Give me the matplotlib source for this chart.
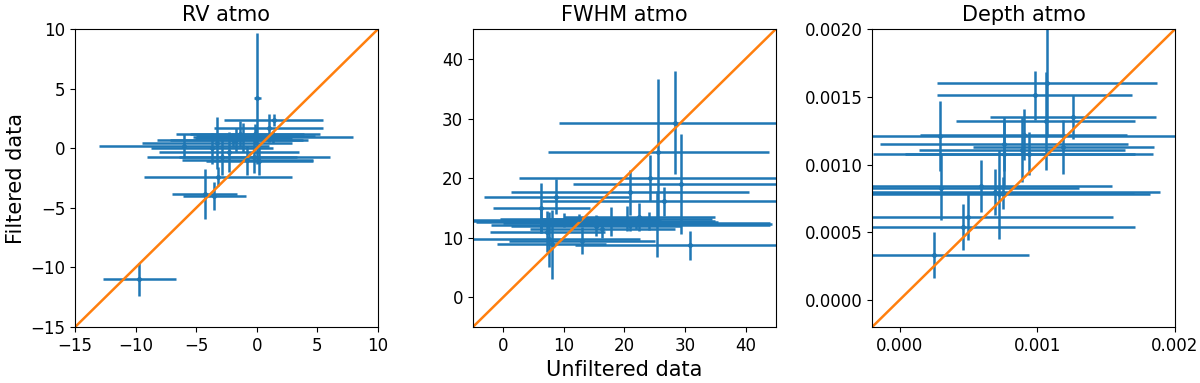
import matplotlib
matplotlib.use("Agg")
import matplotlib.pyplot as plt
from matplotlib.ticker import MultipleLocator
import numpy as np

# RV atmo: unfiltered (x) vs filtered (y), with errors
rv_x = [-9.7, -4.3, -3.5, -3.2, -6.0, -3.3, -2.3, -1.7, -1.4, -1.1, -0.8, -0.2,
        0.05, 1.0, 1.4, 1.3, -2.0, -0.15, -0.1, -2.9, 0.2, -3.7]
rv_y = [-11.0, -3.85, -4.0, -2.4, 0.2, 0.45, -0.3, 0.7, 1.2, 0.9, -1.0, -0.7,
        4.2, 1.7, 2.4, 0.95, 0.7, 1.2, 1.0, -0.7, -1.05, 0.0]
rv_xerr = [3.0, 2.7, 2.6, 6.1, 7.0, 6.2, 5.8, 5.5, 5.3, 4.0, 5.4, 6.2,
           0.3, 4.5, 4.1, 6.6, 6.2, 5.4, 4.9, 6.2, 4.4, 5.0]
rv_yerr = [1.4, 2.1, 1.2, 0.8, 1.0, 2.2, 1.7, 1.0, 1.1, 1.2, 1.2, 1.4,
           5.5, 1.2, 0.5, 0.5, 0.6, 0.8, 0.6, 1.5, 1.2, 1.3]

# FWHM atmo
fw_x = [28.3, 25.6, 24.2, 29.4, 20.9, 8.8, 6.3, 26.5, 30.8, 13.0, 7.6, 8.0, 7.3,
        15.3, 16.4, 17.8, 20.5, 22.5, 25.4, 15.5, 10.0, 6.2, 21.0, 12.5, 24.0, 22.0]
fw_y = [29.3, 24.4, 20.0, 19.0, 17.6, 16.9, 15.0, 16.1, 8.7, 9.5, 9.7, 8.9, 11.0,
        12.0, 11.5, 12.7, 13.2, 13.5, 12.3, 12.6, 13.0, 12.8, 12.2, 13.1, 12.8, 12.5]
fw_xerr = [19.0, 18.2, 21.6, 17.8, 19.6, 12.0, 8.0, 20.0, 19.0, 12.0, 15.0, 9.0, 9.5,
           14.0, 12.0, 12.0, 14.0, 12.5, 19.0, 20.0, 16.0, 12.0, 23.0, 13.0, 11.0, 22.0]
fw_yerr = [8.6, 12.3, 3.8, 8.4, 3.8, 2.9, 4.2, 2.4, 2.5, 2.3, 4.6, 5.8, 3.4,
           1.8, 1.5, 2.5, 2.1, 2.4, 5.6, 1.0, 1.2, 2.0, 1.0, 0.8, 1.5, 1.0]

# Depth atmo
dp_x = [2.5e-4, 4.6e-4, 5.0e-4, 5.9e-4, 2.9e-4, 3.0e-4, 6.9e-4, 7.2e-4, 7.6e-4, 7.6e-4,
        8.9e-4, 9.0e-4, 9.4e-4, 9.8e-4, 10.7e-4, 10.6e-4, 12.6e-4, 11.9e-4, 7.5e-4]
dp_y = [3.3e-4, 5.4e-4, 6.1e-4, 8.4e-4, 12.1e-4, 8.3e-4, 8.0e-4, 7.8e-4, 10.8e-4, 11.5e-4,
        11.1e-4, 12.2e-4, 10.8e-4, 15.1e-4, 16.0e-4, 13.2e-4, 13.5e-4, 11.3e-4, 7.9e-4]
dp_xerr = [6.9e-4, 12.5e-4, 10.5e-4, 9.5e-4, 18.0e-4, 10.0e-4, 12.0e-4, 11.0e-4, 9.5e-4, 9.0e-4,
           7.5e-4, 7.5e-4, 9.0e-4, 7.1e-4, 8.0e-4, 6.5e-4, 6.0e-4, 6.6e-4, 9.5e-4]
dp_yerr = [1.7e-4, 1.7e-4, 1.7e-4, 1.9e-4, 2.6e-4, 2.4e-4, 1.7e-4, 3.3e-4, 2.5e-4, 2.0e-4,
           2.4e-4, 1.9e-4, 1.6e-4, 1.8e-4, 4.0e-4, 3.6e-4, 1.6e-4, 2.0e-4, 1.2e-4]

panels = [
    ("RV atmo", rv_x, rv_y, rv_xerr, rv_yerr, (-15, 10), 5),
    ("FWHM atmo", fw_x, fw_y, fw_xerr, fw_yerr, (-5, 45), 10),
    ("Depth atmo", dp_x, dp_y, dp_xerr, dp_yerr, (-0.0002, 0.002), None),
]

fig = plt.figure(figsize=(12, 3.83), dpi=100)
lefts = [0.0625, 0.394, 0.7267]

for left, (title, x, y, xerr, yerr, lims, step) in zip(lefts, panels):
    ax = fig.add_axes([left, 0.146, 0.2525, 0.778])
    ax.errorbar(x, y, xerr=xerr, yerr=yerr, fmt=".", color="C0",
                markersize=5, elinewidth=1.8)
    ax.plot(lims, lims, color="C1", lw=1.8)
    ax.set_xlim(lims)
    ax.set_ylim(lims)
    if step is not None:
        ax.xaxis.set_major_locator(MultipleLocator(step))
        ax.yaxis.set_major_locator(MultipleLocator(step))
    else:
        ax.xaxis.set_major_locator(MultipleLocator(0.001))
        ax.yaxis.set_major_locator(MultipleLocator(0.0005))
    ax.tick_params(labelsize=12)
    ax.set_title(title, fontsize=15)

fig.text(0.013, 0.535, "Filtered data", rotation=90, ha="center", va="center", fontsize=15)
fig.text(0.52, 0.035, "Unfiltered data", ha="center", va="center", fontsize=15)

fig.savefig("out.png", dpi=100)
